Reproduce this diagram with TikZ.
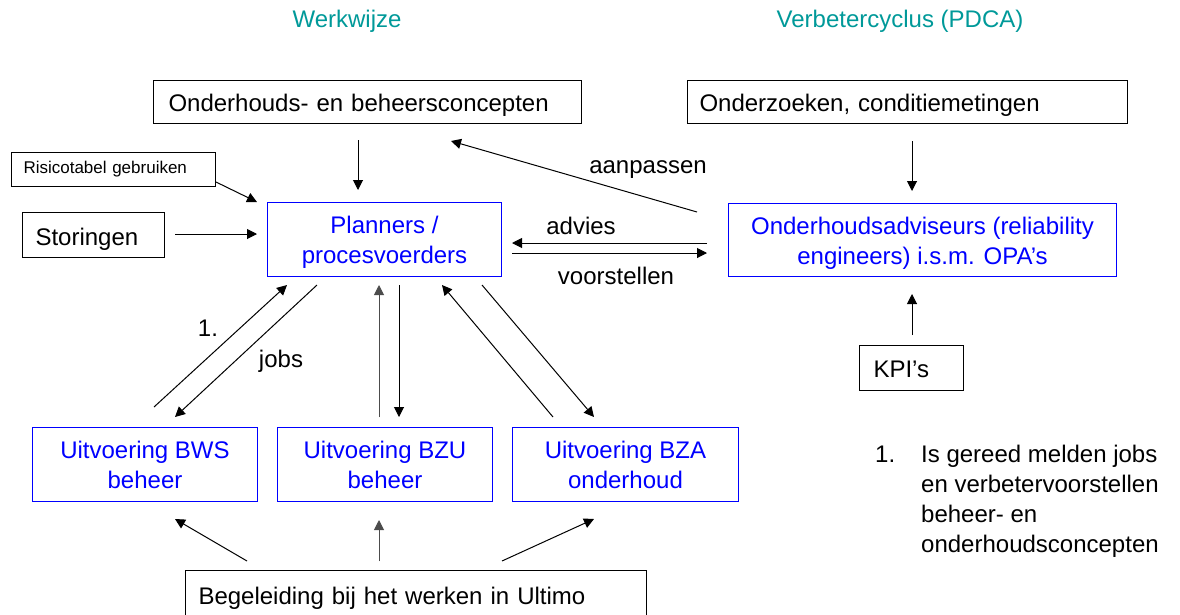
\documentclass[tikz,border=0pt]{standalone}
\usepackage{fontspec}
\setmainfont{Liberation Sans}
\usetikzlibrary{arrows.meta}
\definecolor{titleteal}{RGB}{0,153,153}
\definecolor{pureblue}{RGB}{0,0,255}
% struts that fix the height of the first and the depth of the last line
\newcommand{\firstln}{\rule{0pt}{24pt}}
\newcommand{\lastln}{\rule[-6pt]{0pt}{6pt}}
\begin{document}
\begin{tikzpicture}[x=1pt,y=-1pt,
  every node/.style={font=\fontsize{24}{30}\selectfont},
  arr/.style={line width=1pt, -{Triangle[length=10pt,width=10pt]}},
  plainbox/.style={draw, line width=1pt, inner xsep=13pt, inner ysep=0pt, align=left,
    anchor=north west, text height=22pt, text depth=3pt},
  bluebox/.style={draw=pureblue, text=pureblue, line width=1pt, inner sep=0pt, align=center, anchor=north west},
  lbl/.style={inner sep=0pt, anchor=base},
  note/.style={inner sep=0pt, anchor=base west}]
\useasboundingbox (0,0) rectangle (1180,614);

% column titles
\node[inner sep=0pt, text=titleteal] (t1) at (347,21) {Werkwijze};
\node[inner sep=0pt, text=titleteal] (t2) at (900,21) {Verbetercyclus (PDCA)};

% boxes
\node[plainbox, inner xsep=15pt, text width=398pt, minimum height=43pt] (conc) at (153,80) {Onderhouds- en beheersconcepten};
\node[plainbox, inner xsep=12pt, text width=416pt, minimum height=43pt] (onderz) at (687,80) {Onderzoeken, conditiemetingen};
\node[plainbox, inner xsep=12pt, text width=180pt, minimum height=34pt, text height=12.4pt, text depth=3.6pt,
  font=\fontsize{17}{20}\selectfont] (risico) at (11,152) {Risicotabel gebruiken};
\node[plainbox, text width=116pt, minimum height=45pt, text depth=1pt] (stor) at (22,212) {Storingen};
\node[bluebox, minimum width=234pt, minimum height=74pt] (plan) at (267,202) {\firstln Planners /\\procesvoerders\lastln};
\node[bluebox, minimum width=388pt, minimum height=73pt] (adv) at (728,203) {\firstln Onderhoudsadviseurs (reliability\\engineers) i.s.m. OPA’s\lastln};
\node[plainbox, inner xsep=14pt, text width=76pt, minimum height=45pt] (kpi) at (859,345) {KPI’s};
\node[bluebox, minimum width=225pt, minimum height=74pt] (bws) at (32,427) {\firstln Uitvoering BWS\\beheer\lastln};
\node[bluebox, minimum width=215pt, minimum height=74pt] (bzu) at (277,427) {\firstln Uitvoering BZU\\beheer\lastln};
\node[bluebox, minimum width=226pt, minimum height=74pt] (bza) at (512,427) {\firstln Uitvoering BZA\\onderhoud\lastln};
\node[plainbox, text width=435pt, minimum height=52pt, text depth=7pt] (beg) at (185,570) {Begeleiding bij het werken in Ultimo};

% connector end points
\coordinate (concOut) at (358,140);  \coordinate (planInTop) at (358,190);
\coordinate (onderzOut) at (912,141); \coordinate (advInTop) at (912,191);
\coordinate (kpiOut) at (912,335);   \coordinate (advInBot) at (912,294);
\coordinate (storOut) at (175,234);  \coordinate (planInLeft) at (257,234);
\coordinate (risicoOut) at (216,182); \coordinate (planInCorner) at (257,202);
\coordinate (advOutA) at (707,243);  \coordinate (planInRight) at (512,243);
\coordinate (planOutR) at (512,253); \coordinate (advInLeft) at (707,253);
\coordinate (advOutB) at (697,212);  \coordinate (concIn) at (451,141);
\coordinate (bwsOut) at (154,407);   \coordinate (planInA) at (287,285);
\coordinate (planOutA) at (317,285); \coordinate (bwsIn) at (175,417);
\coordinate (bzuOut) at (379,417);   \coordinate (planInB) at (379,285);
\coordinate (planOutB) at (399,285); \coordinate (bzuIn) at (399,417);
\coordinate (bzaOut) at (553,417);   \coordinate (planInC) at (442,285);
\coordinate (planOutC) at (482,285); \coordinate (bzaIn) at (594,417);
\coordinate (begOutA) at (247,561);  \coordinate (bwsInB) at (175,519);
\coordinate (begOutB) at (379,561);  \coordinate (bzuInB) at (379,520);
\coordinate (begOutC) at (502,561);  \coordinate (bzaInB) at (594,519);

% connectors
\draw[arr] (concOut) -- (planInTop);
\draw[arr] (onderzOut) -- (advInTop);
\draw[arr] (kpiOut) -- (advInBot);
\draw[arr] (storOut) -- (planInLeft);
\draw[arr] (risicoOut) -- (planInCorner);
\draw[arr] (advOutA) -- (planInRight);
\draw[arr] (planOutR) -- (advInLeft);
\draw[arr] (advOutB) -- (concIn);
\draw[arr] (bwsOut) -- (planInA);
\draw[arr] (planOutA) -- (bwsIn);
\draw[arr, draw=black!70, fill=black!70] (bzuOut) -- (planInB);
\draw[arr] (planOutB) -- (bzuIn);
\draw[arr] (bzaOut) -- (planInC);
\draw[arr] (planOutC) -- (bzaIn);
\draw[arr] (begOutA) -- (bwsInB);
\draw[arr, draw=black!70, fill=black!70] (begOutB) -- (bzuInB);
\draw[arr] (begOutC) -- (bzaInB);

% connector labels
\node[lbl] (lAdv) at (581,234) {advies};
\node[lbl] (lVoor) at (616,284) {voorstellen};
\node[lbl] (lAanp) at (648,173) {aanpassen};
\node[lbl] (lOne) at (208,336) {1.};
\node[lbl] (lJobs) at (281,367) {jobs};

% footnote
\node[note] (fnNum) at (875,462) {1.};
\node[note] (fn1) at (921,462) {Is gereed melden jobs};
\node[note] (fn2) at (921,492) {en verbetervoorstellen};
\node[note] (fn3) at (921,522) {beheer- en};
\node[note] (fn4) at (921,552) {onderhoudsconcepten};
\end{tikzpicture}
\end{document}
